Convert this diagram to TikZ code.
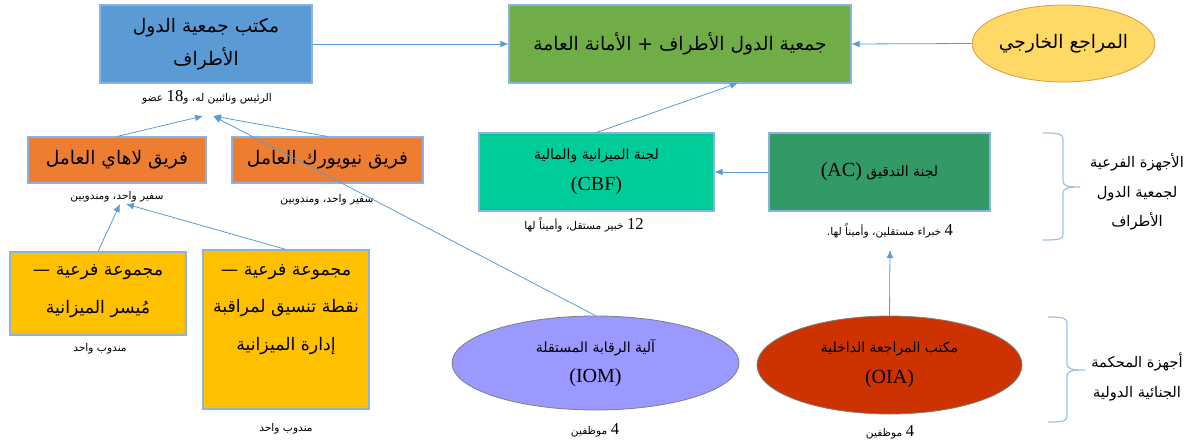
\documentclass[tikz,border=0pt]{standalone}
\usepackage{fontspec}
\usetikzlibrary{arrows.meta,shapes.geometric}
\TeXXeTstate=1
\newfontfamily\arabicfont[Script=Arabic]{DejaVu Sans}
\newfontfamily\latinfnt{Liberation Serif}
\newcommand\artxt[1]{{\arabicfont\beginR #1\endR}}
\newcommand\num[1]{\beginL{\latinfnt\fontsize{12.5}{14}\selectfont #1}\endL{}}
\newcommand\abbr[1]{\beginL{\latinfnt\fontsize{15}{17}\selectfont #1}\endL{}}
\definecolor{cblue}{HTML}{5B9BD5}
\definecolor{bord}{HTML}{8CB2E0}
\definecolor{cgreen}{HTML}{70AD47}
\definecolor{cyell}{HTML}{FFD966}
\definecolor{yellbord}{HTML}{D99A4E}
\definecolor{corange}{HTML}{ED7D31}
\definecolor{cgold}{HTML}{FFC000}
\definecolor{cteal}{HTML}{00CC99}
\definecolor{cdkgreen}{HTML}{339966}
\definecolor{cviolet}{HTML}{9999FF}
\definecolor{cred}{HTML}{CC3300}
\definecolor{greybord}{HTML}{7F7F7F}
\definecolor{bracec}{HTML}{9DC3E6}
\tikzset{
  boxnode/.style={draw=bord, line width=0.8pt, inner sep=0pt, align=center},
  ellnode/.style={ellipse, draw=greybord, line width=0.6pt, inner sep=0pt, align=center},
  bigtxt/.style={font=\fontsize{14}{25}\selectfont},
  subtxt/.style={font=\fontsize{13}{25}\selectfont, align=center, inner sep=0pt},
  midtxt/.style={font=\fontsize{10.5}{23}\selectfont},
  captxt/.style={font=\fontsize{8}{10}\selectfont, inner sep=0pt},
  bracetxt/.style={font=\fontsize{11}{22}\selectfont, inner sep=0pt, align=center},
  arr/.style={draw=cblue, line width=0.6pt, -{Latex[length=6pt,width=5pt]}},
  bracepath/.style={draw=bracec, line width=0.9pt}
}
\begin{document}
\begin{tikzpicture}[x=0.75pt,y=-0.75pt]
\useasboundingbox (0,0) rectangle (1192,443);

% top row
\node[boxnode, bigtxt, fill=cblue, minimum width=159pt, minimum height=58.5pt] (office) at (206,44)
  {\artxt{مكتب جمعية الدول}\\\artxt{الأطراف}};
\node[boxnode, bigtxt, fill=cgreen, minimum width=256.5pt, minimum height=58.5pt] (asp) at (680,44)
  {\artxt{جمعية الدول الأطراف + الأمانة العامة}};
\node[ellnode, bigtxt, draw=yellbord, fill=cyell, minimum width=132.75pt, minimum height=57.75pt] (ext) at (1063.5,43.5)
  {\artxt{المراجع الخارجي}};
\node[captxt] (officecap) at (207,97) {\artxt{الرئيس ونائبين له، و\num{18} عضو}};

% working groups
\node[boxnode, bigtxt, fill=corange, minimum width=133.5pt, minimum height=34.5pt] (hague) at (117,160)
  {\artxt{فريق لاهاي العامل}};
\node[boxnode, bigtxt, fill=corange, minimum width=143.25pt, minimum height=34.5pt] (ny) at (327.5,160)
  {\artxt{فريق نيويورك العامل}};
\node[captxt] (haguecap) at (117,197) {\artxt{سفير واحد، ومندوبين}};
\node[captxt] (nycap) at (327,200) {\artxt{سفير واحد، ومندوبين}};

% sub-groups
\node[boxnode, fill=cgold, minimum width=132pt, minimum height=62.25pt] (sub1) at (98,293.5) {};
\node[subtxt] (sub1txt) at (98,291)
  {\artxt{مجموعة فرعية —}\\[3pt]\artxt{مُيسر الميزانية}};
\node[boxnode, fill=cgold, minimum width=124.5pt, minimum height=119.25pt] (sub2) at (286,329.5) {};
\node[subtxt] (sub2txt) at (286,309.5)
  {\artxt{مجموعة فرعية —}\\[3pt]\artxt{نقطة تنسيق لمراقبة}\\[3pt]\artxt{إدارة الميزانية}};
\node[captxt] (sub1cap) at (100,349) {\artxt{مندوب واحد}};
\node[captxt] (sub2cap) at (286,429) {\artxt{مندوب واحد}};

% committees
\node[boxnode, midtxt, fill=cteal, minimum width=176.25pt, minimum height=58.5pt] (cbf) at (596.5,172)
  {\artxt{لجنة الميزانية والمالية}\\\abbr{(CBF)}};
\node[boxnode, midtxt, fill=cdkgreen, minimum width=165.75pt, minimum height=58.5pt] (ac) at (879.5,172)
  {\artxt{لجنة التدقيق \abbr{(AC)}}};
\node[captxt] (cbfcap) at (584,225) {\artxt{\num{12} خبير مستقل، وأميناً لها}};
\node[captxt] (accap) at (890,231) {\artxt{\num{4} خبراء مستقلين، وأميناً لها.}};

% court organs
\node[ellnode, midtxt, fill=cviolet, minimum width=215.25pt, minimum height=70.5pt] (iom) at (595.5,363)
  {\artxt{آلية الرقابة المستقلة}\\\abbr{(IOM)}};
\node[ellnode, midtxt, fill=cred, minimum width=198.75pt, minimum height=73.5pt] (oia) at (889.5,365)
  {\artxt{مكتب المراجعة الداخلية}\\\abbr{(OIA)}};
\node[captxt] (iomcap) at (595,430) {\artxt{\num{4} موظفين}};
\node[captxt] (oiacap) at (890,432) {\artxt{\num{4} موظفين}};

% free connector ends
\coordinate (captipA) at (203,116);
\coordinate (captipB) at (213,116);
\coordinate (hcaptipA) at (120,204);
\coordinate (hcaptipB) at (126,204);
\coordinate (aspin) at (738,83);
\coordinate (accaptip) at (890,250);

% connectors
\draw[arr] (office.east) -- (asp.west);
\draw[arr] (ext.west) -- (asp.east);
\draw[arr] (hague.north) -- (captipA);
\draw[arr] (ny.north) -- (captipB);
\draw[arr] (iom.north) -- (captipB);
\draw[arr] (sub1.north) -- (hcaptipA);
\draw[arr] (sub2.north) -- (hcaptipB);
\draw[arr] (cbf.north) -- (aspin);
\draw[arr] (ac.west) -- (cbf.east);
\draw[arr] (oia.north) -- (accaptip);

% braces
\draw[bracepath] (1043,133) .. controls (1060,133) and (1063,134) .. (1063,140) -- (1063,181)
  .. controls (1063,186) and (1068,187) .. (1080,187)
  .. controls (1068,187) and (1063,188) .. (1063,193) -- (1063,234)
  .. controls (1063,239) and (1060,240) .. (1043,240);
\draw[bracepath] (1048,317) .. controls (1064,317) and (1067,318) .. (1067,324) -- (1067,364)
  .. controls (1067,369) and (1072,370) .. (1085,370)
  .. controls (1072,370) and (1067,371) .. (1067,376) -- (1067,416)
  .. controls (1067,421) and (1064,422) .. (1048,422);
\node[bracetxt] (brace1txt) at (1137,192)
  {\artxt{الأجهزة الفرعية}\\\artxt{لجمعية الدول}\\\artxt{الأطراف}};
\node[bracetxt] (brace2txt) at (1137,377)
  {\artxt{أجهزة المحكمة}\\\artxt{الجنائية الدولية}};
\end{tikzpicture}
\end{document}
